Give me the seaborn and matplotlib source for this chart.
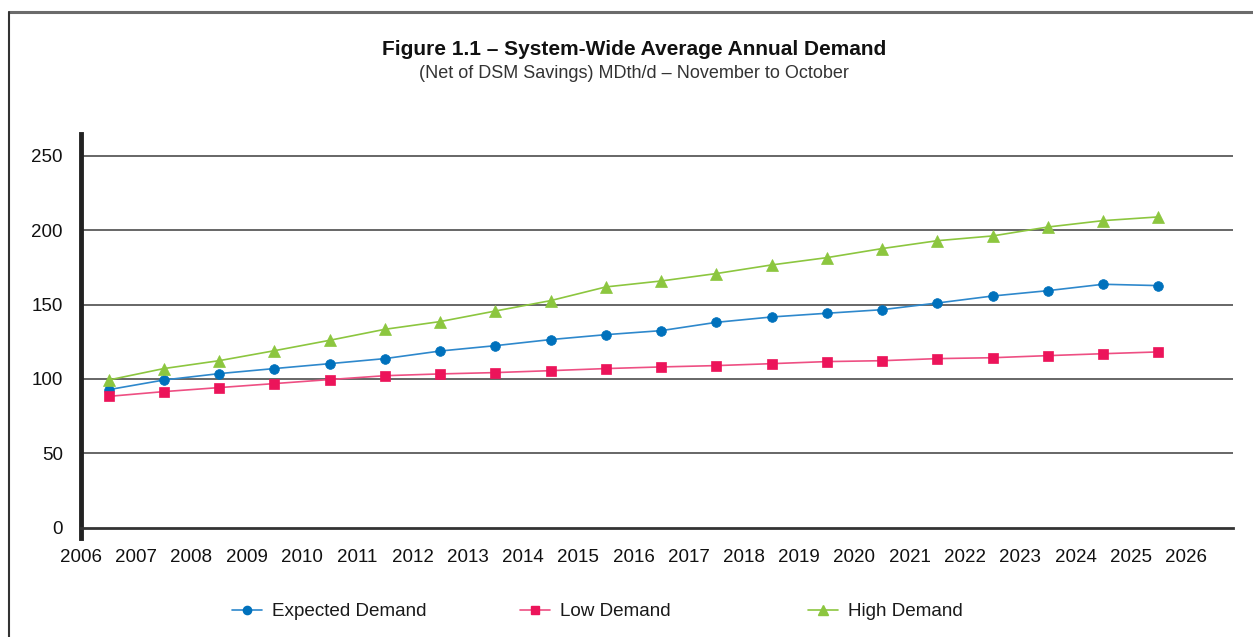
import matplotlib
matplotlib.use("Agg")
import matplotlib.pyplot as plt
from matplotlib.lines import Line2D
import seaborn as sns
import pandas as pd
import numpy as np

# ---- data -------------------------------------------------------------
period_start = [2006, 2007, 2008, 2009, 2010, 2011, 2012, 2013, 2014, 2015,
                2016, 2017, 2018, 2019, 2020, 2021, 2022, 2023, 2024, 2025]
expected = [92.8, 99.3, 103.6, 107.0, 110.3, 113.7, 118.8, 122.4, 126.5, 129.8,
            132.5, 138.1, 141.7, 144.2, 146.6, 151.1, 155.8, 159.4, 163.7, 162.8]
low = [88.3, 91.5, 94.2, 96.9, 99.6, 102.2, 103.4, 104.3, 105.6, 107.0,
       108.1, 109.0, 110.3, 111.7, 112.3, 113.7, 114.3, 115.7, 117.0, 118.2]
high = [99.3, 107.0, 112.3, 119.0, 126.0, 133.4, 138.6, 145.7, 152.7, 161.9,
        165.9, 170.9, 176.7, 181.6, 187.7, 193.0, 196.2, 202.2, 206.5, 209.0]
x_ticks = list(range(2006, 2027))
y_ticks = [0, 50, 100, 150, 200, 250]
series_names = ["Expected Demand", "Low Demand", "High Demand"]

# values are plotted at the middle of each November-to-October period
period_mid = np.array(period_start) + 0.5
df = pd.DataFrame({"period": period_mid, "Expected Demand": expected,
                   "Low Demand": low, "High Demand": high})

# ---- style ------------------------------------------------------------
sns.set_style("white")
plt.rcParams["font.family"] = ["Liberation Sans", "DejaVu Sans"]

fig = plt.figure(figsize=(12.53, 6.37), dpi=100)
ax = fig.add_axes([0.0646, 0.1553, 0.9194, 0.6349])

styles = {
    "Expected Demand": dict(marker="o", ms=7, mc="#0071BC", lc="#2E88CC"),
    "Low Demand": dict(marker="s", ms=6.5, mc="#EC145A", lc="#EE4F83"),
    "High Demand": dict(marker="^", ms=8.5, mc="#8CC63F", lc="#8CC63F"),
}

handles = []
for name in series_names:
    st = styles[name]
    sns.lineplot(data=df, x="period", y=name, ax=ax, color=st["lc"], lw=1.2,
                 marker=st["marker"], markersize=st["ms"],
                 markerfacecolor=st["mc"], markeredgecolor=st["mc"],
                 markeredgewidth=0.5, label=name, zorder=3)
    handles.append(ax.get_lines()[-1])
if ax.get_legend() is not None:
    ax.get_legend().remove()

ax.set_xlim(2006, 2026.85)
ax.set_ylim(-7, 265)
ax.set_xticks(x_ticks)
ax.set_xticklabels([str(v) for v in x_ticks])
ax.set_yticks(y_ticks)
ax.set_yticklabels([str(v) for v in y_ticks])
ax.set_xlabel("")
ax.set_ylabel("")

for v in y_ticks[1:]:
    ax.axhline(v, color="#5a5a5a", lw=1.3, zorder=1)

for s in ["top", "right"]:
    ax.spines[s].set_visible(False)
ax.spines["left"].set_linewidth(3.5)
ax.spines["left"].set_color("#222222")
ax.spines["bottom"].set_position(("data", 0))
ax.spines["bottom"].set_linewidth(2)
ax.spines["bottom"].set_color("#333333")

ax.tick_params(axis="x", direction="inout", length=14, width=1.6, color="#333333",
               labelsize=13.5, labelcolor="#111111", pad=8.5)
ax.tick_params(axis="y", direction="out", length=8, width=1.3, color="#5a5a5a",
               labelsize=13.5, labelcolor="#111111", pad=5)

# ---- titles -----------------------------------------------------------
fig.text(0.506, 0.923, "Figure 1.1 – System-Wide Average Annual Demand",
         ha="center", va="center", fontsize=15, fontweight="bold", color="#111111")
fig.text(0.506, 0.884, "(Net of DSM Savings) MDth/d – November to October",
         ha="center", va="center", fontsize=13, color="#333333")

# ---- legends ----------------------------------------------------------
leg_x = [0.1852, 0.4150, 0.6449]
for h, name, lx in zip(handles, series_names, leg_x):
    st = styles[name]
    proxy = Line2D([], [], color=st["lc"], lw=1.2, marker=st["marker"],
                   markersize=st["ms"] * 0.85, markerfacecolor=st["mc"],
                   markeredgecolor=st["mc"])
    fig.legend(handles=[proxy], labels=[name], loc="center left",
               bbox_to_anchor=(lx, 0.040), frameon=False, borderpad=0,
               borderaxespad=0, handlelength=1.6, handletextpad=0.5,
               fontsize=13.6, labelcolor="#1a1a1a")

# ---- outer frame ------------------------------------------------------
fig.add_artist(Line2D([0.0068, 1.0], [0.9804, 0.9804], transform=fig.transFigure,
                      color="#6b6b6b", lw=2.2))
fig.add_artist(Line2D([0.0068, 0.0068], [0.0, 0.9804], transform=fig.transFigure,
                      color="#333333", lw=1.5))

fig.savefig("out.png", dpi=100)
